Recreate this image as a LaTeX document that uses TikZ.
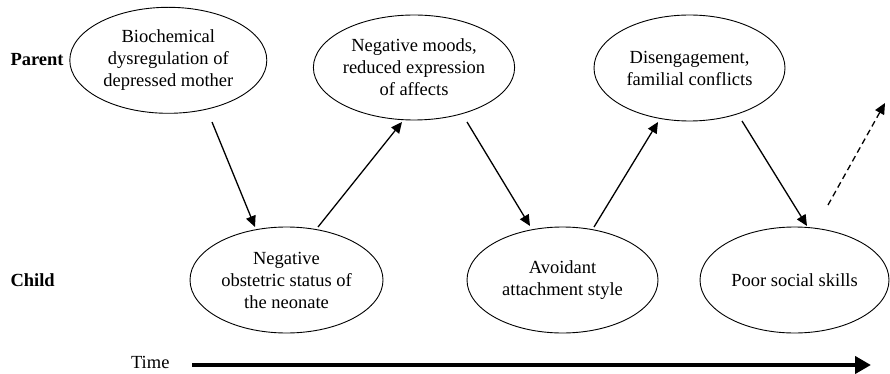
\documentclass[tikz,border=0pt]{standalone}
\usepackage{fontspec}
\setmainfont{Liberation Serif}
\usetikzlibrary{shapes.geometric,arrows.meta,calc}
\begin{document}
\begin{tikzpicture}[x=1pt,y=-1pt,
  bubble/.style={ellipse,draw,line width=0.9pt,inner sep=0pt,outer sep=0pt,
    align=center,font=\fontsize{18.5}{22}\selectfont},
  lane/.style={anchor=west,font=\fontsize{18.5}{22}\selectfont\bfseries},
  arr/.style={line width=1.3pt,-{Triangle[length=11pt,width=10pt]}},
  darr/.style={arr,dash pattern=on 6pt off 4pt}]
\useasboundingbox (0,0) rectangle (890,374);
\node[bubble,minimum width=197pt,minimum height=106pt] (e1) at (168.3,60.3)
  {Biochemical\\dysregulation of\\depressed mother};
\node[bubble,minimum width=192pt,minimum height=105pt] (e2) at (414,67.5)
  {Negative moods,\\reduced expression\\of affects};
\node[bubble,minimum width=191pt,minimum height=106pt] (e3) at (689.5,68)
  {Disengagement,\\familial conflicts};
\node[bubble,minimum width=193pt,minimum height=106pt] (e4) at (286.5,280)
  {Negative\\obstetric status of\\the neonate};
\node[bubble,minimum width=191pt,minimum height=106pt] (e5) at (562.5,280)
  {Avoidant\\attachment style};
\node[bubble,minimum width=189pt,minimum height=106pt] (e6) at (794.5,280)
  {Poor social skills};
\node[lane] (parent) at (7,60) {Parent};
\node[lane] (child) at (7,280) {Child};
\node[font=\fontsize{18.5}{22}\selectfont,anchor=east] (time) at (173,362) {Time};
\coordinate (tend) at (871,365);
\coordinate (dend) at (885,103);
\draw[arr] ($(e1.center)+(43.7,61.7)$) -- ($(e4.center)+(-31.5,-53)$);
\draw[arr] ($(e4.center)+(31.5,-53)$) -- ($(e2.center)+(-12,54.5)$);
\draw[arr] ($(e2.center)+(53,54.5)$) -- ($(e5.center)+(-32.5,-54)$);
\draw[arr] ($(e5.center)+(31.5,-53)$) -- ($(e3.center)+(-31.5,54)$);
\draw[arr] ($(e3.center)+(52.5,53)$) -- ($(e6.center)+(12.5,-54)$);
\draw[darr] ($(e6.center)+(33.5,-75)$) -- (dend);
\draw[line width=4.5pt,-{Triangle[length=16pt,width=17pt]}] ($(time.east)+(19,3)$) -- (tend);
\end{tikzpicture}
\end{document}
